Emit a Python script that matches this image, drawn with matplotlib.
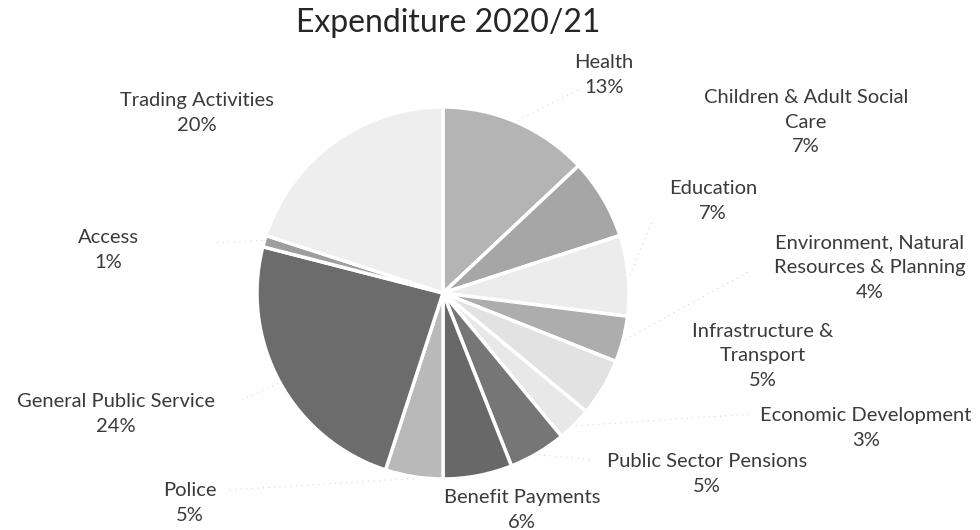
import matplotlib
matplotlib.use("Agg")
import matplotlib.pyplot as plt
import numpy as np

plt.rcParams['font.family'] = ['Lato', 'DejaVu Sans']

# ---- data ----
categories = ["Health", "Children & Adult Social\nCare", "Education",
              "Environment, Natural\nResources & Planning", "Infrastructure &\nTransport",
              "Economic Development", "Public Sector Pensions", "Benefit Payments",
              "Police", "General Public Service", "Access", "Trading Activities"]
shares = [13, 7, 7, 4, 5, 3, 5, 6, 5, 24, 1, 20]
title = "Expenditure 2020/21"

# ---- styles / layout ----
colors = ["#b4b4b4", "#a6a6a6", "#ececec", "#adadad", "#e2e2e2", "#e8e8e8",
          "#767676", "#686868", "#b9b9b9", "#6c6c6c", "#9e9e9e", "#eeeeee"]
# label block centres in pixel coordinates (x, y from top)
label_pos = [(604, 75), (806, 122), (713, 201), (870, 268), (763, 356),
             (866, 428), (707, 474), (522, 510), (190, 503), (116, 414),
             (108, 250), (197, 113)]
# end points of faint leader lines next to the labels (pixels), None = no line
leader_end = [(582, 88), None, (652, 222), (748, 272), None,
              (752, 414), (594, 460), None, (228, 490), (242, 400),
              (214, 243), None]

W, H = 980, 530
fig = plt.figure(figsize=(W / 100, H / 100), dpi=100)
cx, cy, r = 443, 293, 186
ax = fig.add_axes([(cx - r) / W, 1 - (cy + r) / H, 2 * r / W, 2 * r / H])
wedges, _ = ax.pie(shares, colors=colors, startangle=90, counterclock=False, radius=1,
                   wedgeprops=dict(edgecolor="white", linewidth=2.5))
ax.set_xlim(-1, 1)
ax.set_ylim(-1, 1)
ax.set_aspect("equal")
ax.axis("off")

# faint leader lines from the wedge edge towards the label
for w, end in zip(wedges, leader_end):
    if end is None:
        continue
    mid = np.deg2rad((w.theta1 + w.theta2) / 2)
    x0, y0 = 1.01 * np.cos(mid), 1.01 * np.sin(mid)
    x1, y1 = (end[0] - cx) / r, (cy - end[1]) / r
    ax.plot([x0, x1], [y0, y1], color="#d6d6d6", lw=0.8, ls=(0, (1, 4)),
            clip_on=False)

fig.text(448 / W, 1 - 23 / H, title, ha="center", va="center",
         fontsize=23, color="#262626")

for cat, val, (x, y) in zip(categories, shares, label_pos):
    fig.text(x / W, 1 - y / H, f"{cat}\n{val}%", ha="center", va="center",
             fontsize=14.5, color="#3a3a3a", linespacing=1.55)

fig.savefig("out.png", dpi=100, facecolor="white")
